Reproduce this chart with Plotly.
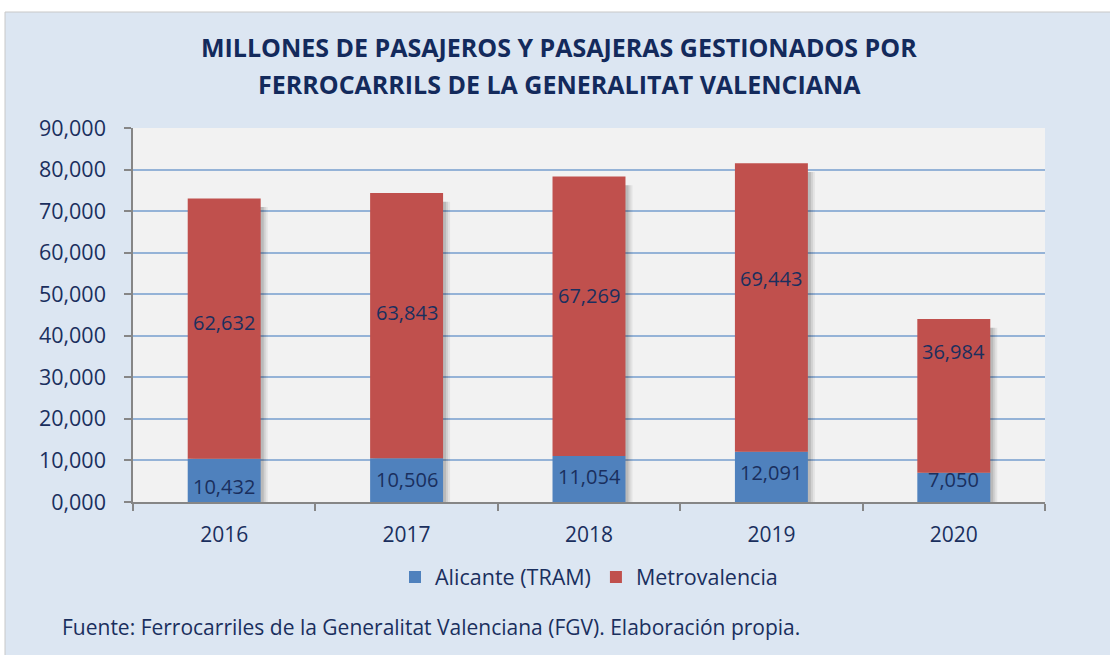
import plotly.graph_objects as go

years = ["2016", "2017", "2018", "2019", "2020"]
alicante = [10.432, 10.506, 11.054, 12.091, 7.050]
metrovalencia = [62.632, 63.843, 67.269, 69.443, 36.984]
y_ticks = [0, 10, 20, 30, 40, 50, 60, 70, 80, 90]
title_lines = ["MILLONES DE PASAJEROS Y PASAJERAS GESTIONADOS POR",
               "FERROCARRILS DE LA GENERALITAT VALENCIANA"]
source = "Fuente: Ferrocarriles de la Generalitat Valenciana (FGV). Elaboración propia."

# vertical placement of the data labels (axis units), as placed in the original chart
label_pos_alicante = [3.85, 5.3, 6.25, 7.2, 5.5]
label_pos_metro = [43.3, 45.5, 49.8, 53.9, 36.1]

totals = [a + m for a, m in zip(alicante, metrovalencia)]

FONT = "Open Sans, Lato, sans-serif"
NAVY = "#1a2f5e"
W, H = 1110, 655
L, R, T, B = 133, 1045, 128, 502
PW, PH = R - L, B - T
BW = 0.40
px = 1.0 / (PW / 5)  # one pixel in category units

def py(y):  # pixel row -> paper y
    return (B - y) / PH

def pxp(x):  # pixel column -> paper x
    return (x - L) / PW

def fmt(v):
    return f"{v:.3f}".replace(".", ",")

fig = go.Figure()
# soft drop shadows
for off, alpha in [(7, 0.06), (5, 0.08), (3, 0.11)]:
    fig.add_trace(go.Bar(
        x=years, y=[t - 0.6 for t in totals], base=-1.5, width=BW,
        offset=-BW / 2 + off * px,
        marker=dict(color=f"rgba(0,0,0,{alpha})", line=dict(width=0)),
        showlegend=False, hoverinfo="skip",
    ))
fig.add_trace(go.Bar(
    x=years, y=alicante, name="Alicante (TRAM)", width=BW,
    marker=dict(color="#4f81bd", line=dict(width=0)),
))
fig.add_trace(go.Bar(
    x=years, y=metrovalencia, base=alicante, name="Metrovalencia", width=BW,
    marker=dict(color="#c0504d", line=dict(width=0)),
))

# data labels (category index positions on the x axis)
for i, (v, p) in enumerate(zip(alicante, label_pos_alicante)):
    fig.add_annotation(x=i, y=p, xref="x", yref="y", text=fmt(v), showarrow=False,
                       font=dict(family=FONT, size=20, color=NAVY))
for i, (v, p) in enumerate(zip(metrovalencia, label_pos_metro)):
    fig.add_annotation(x=i, y=p, xref="x", yref="y", text=fmt(v), showarrow=False,
                       font=dict(family=FONT, size=20, color=NAVY))

fig.update_layout(
    width=W, height=H,
    margin=dict(l=L, r=W - R, t=T, b=H - B),
    barmode="overlay",
    separators=",.",
    paper_bgcolor="#dce6f2", plot_bgcolor="#f2f2f2",
    font=dict(family=FONT, size=20, color=NAVY),
    showlegend=True,
    legend=dict(orientation="h", x=0.5, xanchor="center", y=py(577), yanchor="middle",
                font=dict(family=FONT, size=21.5, color=NAVY), bgcolor="rgba(0,0,0,0)",
                itemwidth=30, traceorder="normal"),
)
fig.update_xaxes(
    type="category", range=[-0.5, len(years) - 0.5],
    showline=True, linecolor="#868686", linewidth=1.5,
    ticks="outside", tickson="boundaries", ticklen=7, tickcolor="#868686", tickwidth=1.5,
    tickfont=dict(family=FONT, size=21, color=NAVY),
    ticklabelstandoff=13,
    showgrid=False,
)
fig.update_yaxes(
    range=[0, 90], tickvals=y_ticks, tickformat=".3f",
    showline=True, linecolor="#868686", linewidth=1.5,
    ticks="outside", ticklen=7, tickcolor="#868686", tickwidth=1.5,
    showgrid=True, gridcolor="#95b3d7", gridwidth=1.5,
    tickfont=dict(family=FONT, size=21.5, color=NAVY),
    ticklabelstandoff=14,
    zeroline=False,
)

for line, yc in zip(title_lines, [47, 84]):
    fig.add_annotation(
        text=f"<b>{line}</b>", xref="paper", yref="paper", x=pxp(559), y=py(yc),
        xanchor="center", yanchor="middle", showarrow=False,
        font=dict(family=FONT, size=25, color="#132a5c"),
    )
fig.add_annotation(
    text=source, xref="paper", yref="paper", x=pxp(60), y=py(627),
    xanchor="left", yanchor="middle", showarrow=False,
    font=dict(family=FONT, size=21, color=NAVY),
)
# white margin strips framing the panel (as in the reference)
fig.add_shape(type="rect", xref="paper", yref="paper",
              x0=pxp(0), x1=pxp(W), y0=py(12), y1=py(0),
              fillcolor="white", line=dict(width=0), layer="below")
fig.add_shape(type="rect", xref="paper", yref="paper",
              x0=pxp(0), x1=pxp(5), y0=py(H), y1=py(0),
              fillcolor="white", line=dict(width=0), layer="below")
fig.add_shape(type="line", xref="paper", yref="paper",
              x0=pxp(5), x1=pxp(W), y0=py(12), y1=py(12),
              line=dict(color="#c8c8c8", width=1), layer="below")
fig.add_shape(type="line", xref="paper", yref="paper",
              x0=pxp(5), x1=pxp(5), y0=py(12), y1=py(H),
              line=dict(color="#c8c8c8", width=1), layer="below")

fig.write_html("out.html", config={"displayModeBar": False},
               post_script="document.body.style.margin='0';document.body.style.overflow='hidden';")
